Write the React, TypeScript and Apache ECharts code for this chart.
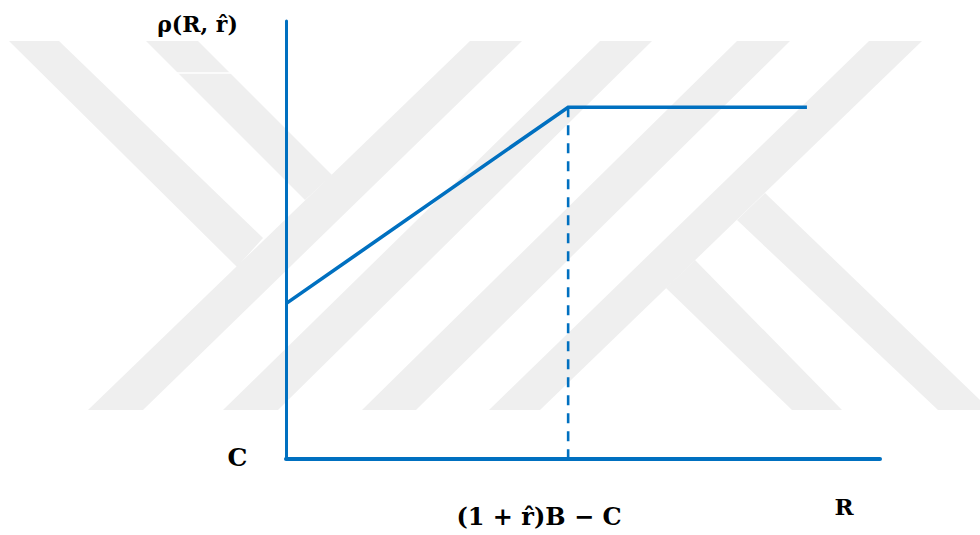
import React, { useEffect, useRef } from "react";
import * as echarts from "echarts";

// ---- data (chart units: x 0..100, y 0..100) ----
const rhoX = [0, 47.5, 87.7];
const rhoY = [35.4, 80.3, 80.3];
const dashX = [47.5, 47.5];
const dashY = [80.3, 0];
const yLabel = "ρ(R, r\u0302)";
const xLabelKink = "(1 + r\u0302)B \u2212 C";
const xLabelEnd = "R";
const yLabelOrigin = "C";

// ---- background watermark shapes (decoration, pixel coordinates) ----
const watermark: number[][][] = [
  [[9, 41], [59, 41], [263, 238], [237, 267]],
  [[146, 41], [198, 41], [332, 175], [305, 200]],
  [[470, 41], [522, 41], [143, 410], [88, 410]],
  [[600, 41], [652, 41], [278, 410], [223, 410]],
  [[737, 41], [790, 41], [416, 410], [362, 410]],
  [[869, 41], [922, 41], [540, 410], [489, 410]],
  [[695, 260], [842, 410], [792, 410], [666, 288]],
  [[765, 193], [980, 400], [980, 410], [938, 410], [737, 220]],
];

const BLUE = "#0070C0";
const FONT = '"DejaVu Serif", "Liberation Serif", serif';

export default function App() {
  const ref = useRef<HTMLDivElement>(null);
  useEffect(() => {
    document.body.style.margin = "0";
    if (!ref.current) return;
    const chart = echarts.init(ref.current, undefined, { renderer: "svg" });
    const txt = (text: string, x: number, y: number, size: number) => ({
      type: "text",
      x,
      y,
      z: 10,
      silent: true,
      style: {
        text,
        font: `bold ${size}px ${FONT}`,
        fill: "#000",
        align: "center",
        verticalAlign: "middle",
        textAlign: "center",
        textVerticalAlign: "middle",
      },
    });
    chart.setOption({
      animation: false,
      backgroundColor: "#ffffff",
      grid: { left: 286, top: 21, width: 594, height: 437.5, containLabel: false },
      xAxis: {
        type: "value",
        min: 0,
        max: 100,
        axisLine: { show: true, lineStyle: { color: BLUE, width: 4 } },
        axisTick: { show: false },
        axisLabel: { show: false },
        splitLine: { show: false },
      },
      yAxis: {
        type: "value",
        min: 0,
        max: 100,
        axisLine: { show: true, lineStyle: { color: BLUE, width: 3 } },
        axisTick: { show: false },
        axisLabel: { show: false },
        splitLine: { show: false },
      },
      graphic: [
        ...watermark.map((pts) => ({
          type: "polygon",
          z: -10,
          silent: true,
          shape: { points: pts },
          style: { fill: "#efefef" },
        })),
        {
          type: "line",
          z: -9,
          silent: true,
          shape: { x1: 176, y1: 73, x2: 231, y2: 73 },
          style: { stroke: "#ffffff", lineWidth: 1.5 },
        },
        txt(yLabel, 197.5, 24, 22),
        txt(yLabelOrigin, 237.5, 457.5, 25),
        txt(xLabelKink, 539, 516.5, 24),
        txt(xLabelEnd, 844, 506.5, 23),
      ],
      series: [
        {
          type: "line",
          data: rhoX.map((x, i) => [x, rhoY[i]]),
          showSymbol: false,
          symbol: "none",
          silent: true,
          lineStyle: { color: BLUE, width: 3.6, join: "miter" },
          z: 3,
        },
        {
          type: "line",
          data: dashX.map((x, i) => [x, dashY[i]]),
          showSymbol: false,
          symbol: "none",
          silent: true,
          lineStyle: { color: BLUE, width: 2.6, type: [10, 8] },
          z: 2,
        },
      ],
    });
    return () => chart.dispose();
  }, []);
  return <div ref={ref} style={{ width: 980, height: 535 }} />;
}
